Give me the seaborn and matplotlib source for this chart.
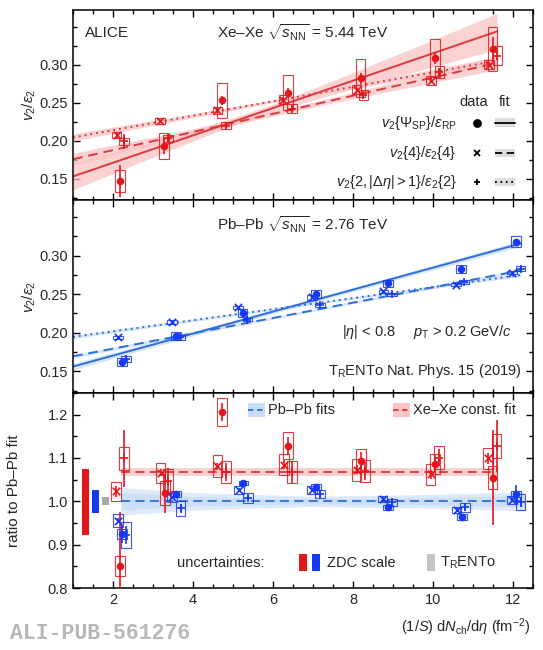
import numpy as np
import pandas as pd
import matplotlib
matplotlib.use('Agg')
import matplotlib.pyplot as plt
from matplotlib.patches import Rectangle
from matplotlib.ticker import MultipleLocator
import seaborn as sns

sns.set_theme(style='ticks')
plt.rcParams['font.family'] = ['Liberation Sans', 'DejaVu Sans']
plt.rcParams['mathtext.fontset'] = 'custom'
plt.rcParams['mathtext.rm'] = 'Liberation Sans'
plt.rcParams['mathtext.it'] = 'Liberation Sans:italic'
plt.rcParams['mathtext.bf'] = 'Liberation Sans:bold'

RED = '#e3161c'
RED_LINE = '#d93a3f'
RED_BAND = '#f9c4c4'
BLUE = '#1638f0'
BLUE_LINE = '#2f6fd8'
BLUE_BAND = '#c9ddf6'

# ---- Xe-Xe  v2/eps2 (top panel)
xe_sp_x = [2.18, 3.28, 4.72, 6.38, 8.19, 10.05, 11.49]
xe_sp_y = [0.147, 0.193, 0.253, 0.263, 0.282, 0.309, 0.321]
xe_sp_stat = [0.021, 0.011, 0.006, 0.006, 0.007, 0.008, 0.015]
xe_sp_sys = [0.014, 0.017, 0.023, 0.023, 0.025, 0.025, 0.029]

xe_c4_x = [2.09, 3.18, 4.61, 6.26, 8.09, 9.95, 11.40]
xe_c4_y = [0.207, 0.226, 0.240, 0.254, 0.267, 0.279, 0.300]
xe_c4_stat = [0.003, 0.003, 0.003, 0.003, 0.003, 0.003, 0.003]
xe_c4_sys = [0.004, 0.004, 0.005, 0.006, 0.006, 0.006, 0.006]

xe_c2_x = [2.28, 3.38, 4.82, 6.47, 8.26, 10.16, 11.61]
xe_c2_y = [0.199, 0.203, 0.220, 0.242, 0.260, 0.290, 0.312]
xe_c2_stat = [0.010, 0.005, 0.003, 0.004, 0.004, 0.005, 0.006]
xe_c2_sys = [0.005, 0.005, 0.004, 0.006, 0.007, 0.008, 0.012]

# linear fits: intercept, slope, band (sigma at pivot, sigma of slope, pivot)
xe_fit_sp = [0.135, 0.0180, 0.005, 0.0038, 5.5]
xe_fit_c4 = [0.1637, 0.01195, 0.003, 0.0015, 6.0]
xe_fit_c2 = [0.1948, 0.00952, 0.002, 0.0009, 6.0]
xe_fit_range = [1.0, 11.6]

# ---- Pb-Pb v2/eps2 (middle panel)
pb_sp_x = [2.23, 3.58, 5.24, 7.07, 8.87, 10.70, 12.08]
pb_sp_y = [0.162, 0.196, 0.226, 0.250, 0.264, 0.283, 0.318]
pb_sp_stat = [0.003, 0.002, 0.002, 0.002, 0.002, 0.002, 0.004]
pb_sp_sys = [0.005, 0.005, 0.005, 0.005, 0.005, 0.005, 0.007]

pb_c4_x = [2.13, 3.47, 5.13, 6.97, 8.76, 10.58, 11.97]
pb_c4_y = [0.194, 0.214, 0.233, 0.246, 0.254, 0.262, 0.278]
pb_c4_stat = [0.001, 0.001, 0.001, 0.001, 0.001, 0.001, 0.001]
pb_c4_sys = [0.002, 0.002, 0.002, 0.003, 0.002, 0.002, 0.002]

pb_c2_x = [2.33, 3.68, 5.36, 7.18, 8.98, 10.78, 12.19]
pb_c2_y = [0.166, 0.194, 0.217, 0.236, 0.250, 0.266, 0.283]
pb_c2_stat = [0.003, 0.002, 0.001, 0.001, 0.001, 0.001, 0.002]
pb_c2_sys = [0.004, 0.003, 0.002, 0.002, 0.002, 0.003, 0.003]

pb_fit_sp = [0.142, 0.01424, 0.0025, 0.0006, 7.0]
pb_fit_c4 = [0.1596, 0.00993, 0.0015, 0.0003, 7.0]
pb_fit_c2 = [0.1876, 0.00716, 0.0015, 0.0003, 7.0]
pb_fit_range = [1.0, 12.2]

# ---- ratios to Pb-Pb fit (bottom panel)
rxe_sp_x = [2.18, 3.30, 4.72, 6.38, 8.20, 10.05, 11.49]
rxe_sp_y = [0.851, 1.019, 1.206, 1.128, 1.094, 1.086, 1.055]
rxe_sp_stat = [0.125, 0.045, 0.020, 0.020, 0.020, 0.020, 0.110]
rxe_sp_sys = [0.023, 0.028, 0.033, 0.031, 0.027, 0.023, 0.027]

rxe_c4_x = [2.08, 3.19, 4.61, 6.28, 8.09, 9.94, 11.38]
rxe_c4_y = [1.023, 1.066, 1.081, 1.085, 1.073, 1.062, 1.099]
rxe_c4_stat = [0.012, 0.008, 0.008, 0.010, 0.010, 0.010, 0.012]
rxe_c4_sys = [0.022, 0.023, 0.025, 0.024, 0.025, 0.025, 0.024]

rxe_c2_x = [2.28, 3.38, 4.82, 6.48, 8.30, 10.15, 11.59]
rxe_c2_y = [1.099, 1.048, 1.068, 1.068, 1.070, 1.101, 1.128]
rxe_c2_stat = [0.066, 0.030, 0.020, 0.025, 0.020, 0.020, 0.060]
rxe_c2_sys = [0.027, 0.027, 0.026, 0.026, 0.026, 0.027, 0.027]

rpb_sp_x = [2.23, 3.58, 5.26, 7.08, 8.88, 10.72, 12.08]
rpb_sp_y = [0.925, 1.017, 1.042, 1.033, 0.986, 0.964, 1.017]
rpb_sp_stat = [0.020, 0.006, 0.004, 0.005, 0.004, 0.005, 0.020]
rpb_sp_sys = [0.012, 0.006, 0.005, 0.006, 0.005, 0.006, 0.008]

rpb_c4_x = [2.13, 3.48, 5.15, 6.98, 8.74, 10.59, 11.98]
rpb_c4_y = [0.955, 1.009, 1.026, 1.026, 1.005, 0.980, 1.003]
rpb_c4_stat = [0.006, 0.004, 0.004, 0.004, 0.004, 0.004, 0.004]
rpb_c4_sys = [0.015, 0.010, 0.010, 0.010, 0.007, 0.008, 0.010]

rpb_c2_x = [2.33, 3.69, 5.37, 7.18, 8.98, 10.80, 12.19]
rpb_c2_y = [0.922, 0.984, 1.008, 1.017, 0.998, 0.986, 0.998]
rpb_c2_stat = [0.020, 0.010, 0.006, 0.006, 0.006, 0.008, 0.012]
rpb_c2_sys = [0.030, 0.017, 0.012, 0.010, 0.008, 0.010, 0.018]

# Pb-Pb fit band in the ratio (outer / inner half widths)
pb_band_x = [2.2, 4.0, 7.0, 10.0, 12.3]
pb_band_outer = [0.032, 0.020, 0.012, 0.016, 0.022]
pb_band_inner = [0.020, 0.011, 0.006, 0.009, 0.013]
xe_const = 1.068
xe_const_err = 0.010
xe_const_range = [2.2, 11.6]

# global scale uncertainties: (x0, x1, lo, hi)
zdc_xe = [1.22, 1.41, 0.923, 1.074]
zdc_pb = [1.47, 1.66, 0.974, 1.026]
trento = [1.72, 1.91, 0.992, 1.009]

BOX_HW = 0.12


def draw_points(ax, xs, ys, stat, sys_, color, marker, box_lw=0.8):
    for x, y, s in zip(xs, ys, sys_):
        ax.add_patch(Rectangle((x - BOX_HW, y - s), 2 * BOX_HW, 2 * s, fill=False,
                               edgecolor=color, lw=box_lw, alpha=0.85, zorder=3))
    ax.errorbar(xs, ys, yerr=stat, fmt='none', ecolor=color, elinewidth=1.2,
                capsize=0, zorder=4)
    df = pd.DataFrame({'x': xs, 'y': ys})
    if marker == 'o':
        sns.scatterplot(data=df, x='x', y='y', marker='o', s=30, color=color,
                        edgecolor=color, linewidth=0, ax=ax, zorder=5)
    else:
        sns.scatterplot(data=df, x='x', y='y', marker=marker, s=28, color=color,
                        linewidth=1.2, ax=ax, zorder=5)


def draw_fit(ax, fit, xr, color, band_color, ls):
    a, b, s0, ss, xp = fit
    xs = np.linspace(xr[0], xr[1], 100)
    ys = a + b * xs
    w = np.sqrt(s0 ** 2 + (ss * (xs - xp)) ** 2)
    ax.fill_between(xs, ys - w, ys + w, color=band_color, alpha=0.75, lw=0, zorder=1)
    sns.lineplot(x=xs, y=ys, color=color, ls=ls, lw=1.4, ax=ax, zorder=2)


fig = plt.figure(figsize=(5.43, 6.5), dpi=100)
L, W = 73 / 543, 460 / 543
ax1 = fig.add_axes([L, 1 - 200 / 650, W, 190 / 650])
ax2 = fig.add_axes([L, 1 - 393 / 650, W, 193 / 650])
ax3 = fig.add_axes([L, 1 - 588 / 650, W, 195 / 650])

# top panel
draw_fit(ax1, xe_fit_sp, xe_fit_range, RED_LINE, RED_BAND, '-')
draw_fit(ax1, xe_fit_c4, xe_fit_range, RED_LINE, RED_BAND, (0, (5, 3)))
draw_fit(ax1, xe_fit_c2, xe_fit_range, RED_LINE, RED_BAND, (0, (1, 2)))
draw_points(ax1, xe_c4_x, xe_c4_y, xe_c4_stat, xe_c4_sys, RED, 'x')
draw_points(ax1, xe_c2_x, xe_c2_y, xe_c2_stat, xe_c2_sys, RED, '+')
draw_points(ax1, xe_sp_x, xe_sp_y, xe_sp_stat, xe_sp_sys, RED, 'o')

# middle panel
draw_fit(ax2, pb_fit_sp, pb_fit_range, BLUE_LINE, BLUE_BAND, '-')
draw_fit(ax2, pb_fit_c4, pb_fit_range, BLUE_LINE, BLUE_BAND, (0, (5, 3)))
draw_fit(ax2, pb_fit_c2, pb_fit_range, BLUE_LINE, BLUE_BAND, (0, (1, 2)))
draw_points(ax2, pb_c4_x, pb_c4_y, pb_c4_stat, pb_c4_sys, BLUE, 'x')
draw_points(ax2, pb_c2_x, pb_c2_y, pb_c2_stat, pb_c2_sys, BLUE, '+')
draw_points(ax2, pb_sp_x, pb_sp_y, pb_sp_stat, pb_sp_sys, BLUE, 'o')

# bottom panel
bx = np.linspace(pb_band_x[0], pb_band_x[-1], 100)
ax3.fill_between(bx, 1 - np.interp(bx, pb_band_x, pb_band_outer),
                 1 + np.interp(bx, pb_band_x, pb_band_outer), color=BLUE_BAND, alpha=0.6, lw=0)
ax3.fill_between(bx, 1 - np.interp(bx, pb_band_x, pb_band_inner),
                 1 + np.interp(bx, pb_band_x, pb_band_inner), color=BLUE_BAND, alpha=0.8, lw=0)
sns.lineplot(x=[pb_band_x[0], pb_band_x[-1]], y=[1.0, 1.0], color=BLUE_LINE,
             ls=(0, (5, 3)), lw=1.3, ax=ax3)
ax3.fill_between(xe_const_range, xe_const - xe_const_err, xe_const + xe_const_err,
                 color=RED_BAND, alpha=0.8, lw=0)
sns.lineplot(x=xe_const_range, y=[xe_const, xe_const], color=RED_LINE,
             ls=(0, (5, 3)), lw=1.3, ax=ax3)
for (x0, x1, lo, hi), c in zip([zdc_xe, zdc_pb, trento], [RED, BLUE, '#a8a8a8']):
    ax3.add_patch(Rectangle((x0, lo), x1 - x0, hi - lo, color=c, lw=0, zorder=3))
draw_points(ax3, rpb_c4_x, rpb_c4_y, rpb_c4_stat, rpb_c4_sys, BLUE, 'x')
draw_points(ax3, rpb_c2_x, rpb_c2_y, rpb_c2_stat, rpb_c2_sys, BLUE, '+')
draw_points(ax3, rpb_sp_x, rpb_sp_y, rpb_sp_stat, rpb_sp_sys, BLUE, 'o')
draw_points(ax3, rxe_c4_x, rxe_c4_y, rxe_c4_stat, rxe_c4_sys, RED, 'x')
draw_points(ax3, rxe_c2_x, rxe_c2_y, rxe_c2_stat, rxe_c2_sys, RED, '+')
draw_points(ax3, rxe_sp_x, rxe_sp_y, rxe_sp_stat, rxe_sp_sys, RED, 'o')

# axes styling
for ax in (ax1, ax2, ax3):
    ax.set_xlim(1, 12.5)
    ax.xaxis.set_major_locator(MultipleLocator(2))
    ax.xaxis.set_minor_locator(MultipleLocator(0.5))
    ax.tick_params(which='both', direction='in', top=True, right=True, labelsize=10.5,
                   width=1.0, color='black')
    ax.tick_params(which='major', length=5)
    ax.tick_params(which='minor', length=3)
    for sp in ax.spines.values():
        sp.set_linewidth(1.1)
        sp.set_color('black')
    ax.set_xlabel('')
    ax.set_ylabel('')

for ax in (ax1, ax2):
    ax.set_ylim(0.122, 0.372)
    ax.yaxis.set_major_locator(MultipleLocator(0.05))
    ax.yaxis.set_minor_locator(MultipleLocator(0.025))
    ax.set_yticks([0.15, 0.20, 0.25, 0.30])
    ax.set_yticklabels(['0.15', '0.20', '0.25', '0.30'])
    ax.tick_params(labelbottom=False)
    ax.set_ylabel(r'$v_2/\varepsilon_2$', fontsize=11)
    ax.yaxis.set_label_coords(-0.075, 0.5)

ax3.set_ylim(0.8, 1.25)
ax3.yaxis.set_major_locator(MultipleLocator(0.1))
ax3.yaxis.set_minor_locator(MultipleLocator(0.05))
ax3.set_yticks([0.8, 0.9, 1.0, 1.1, 1.2])
ax3.set_yticklabels(['0.8', '0.9', '1.0', '1.1', '1.2'])
ax3.set_xticks([2, 4, 6, 8, 10, 12])
ax3.set_xticklabels(['2', '4', '6', '8', '10', '12'])
ax3.set_ylabel('ratio to Pb–Pb fit', fontsize=11)
ax3.yaxis.set_label_coords(-0.112, 0.5)

# texts top panel
fs = 10.5
ax1.text(0.026, 0.879, 'ALICE', transform=ax1.transAxes, fontsize=11, va='center')
ax1.text(0.312, 0.879, r'Xe–Xe $\sqrt{s_{\rm NN}}$ = 5.44 TeV', transform=ax1.transAxes,
         fontsize=11, va='center')
ax1.text(0.870, 0.516, 'data', transform=ax1.transAxes, fontsize=fs, ha='center', va='center')
ax1.text(0.938, 0.516, 'fit', transform=ax1.transAxes, fontsize=fs, ha='center', va='center')
rows = [(r'$v_2\{\Psi_{\rm SP}\}/\varepsilon_{\rm RP}$', 'o', '-', 0.407),
        (r'$v_2\{4\}/\varepsilon_2\{4\}$', 'x', (0, (4, 2.5)), 0.247),
        (r'$v_2\{2, |\Delta\eta| > 1\}/\varepsilon_2\{2\}$', '+', (0, (1, 2)), 0.095)]
for lab, mk, ls, yy in rows:
    ax1.text(0.834, yy, lab, transform=ax1.transAxes, fontsize=fs, ha='right', va='center')
    ax1.plot([0.878], [yy], marker=mk, color='black', ms=5 if mk == 'o' else 4.5,
             mew=1.3, transform=ax1.transAxes, clip_on=False)
    ax1.add_patch(Rectangle((0.918, yy - 0.022), 0.042, 0.044, transform=ax1.transAxes,
                            color='#dcdcdc', lw=0))
    ax1.plot([0.918, 0.960], [yy, yy], color='black', ls=ls, lw=1.3, transform=ax1.transAxes)

# texts middle panel
ax2.text(0.312, 0.870, r'Pb–Pb $\sqrt{s_{\rm NN}}$ = 2.76 TeV', transform=ax2.transAxes,
         fontsize=11, va='center')
ax2.text(0.584, 0.318, r'$|\eta|$ < 0.8', transform=ax2.transAxes, fontsize=fs, va='center')
ax2.text(0.739, 0.318, r'$p_{\rm T}$ > 0.2 GeV/$c$', transform=ax2.transAxes, fontsize=fs,
         va='center')
ax2.text(0.975, 0.116, r'T$_{\rm R}$ENTo Nat. Phys. 15 (2019)', transform=ax2.transAxes,
         fontsize=fs, ha='right', va='center')

# legend bottom panel
def band_key(ax, x0, x1, yy, band, line):
    ax.add_patch(Rectangle((x0, yy - 0.035), x1 - x0, 0.07, transform=ax.transAxes,
                           color=band, lw=0))
    ax.plot([x0, x1], [yy, yy], color=line, ls=(0, (3, 2)), lw=1.3, transform=ax.transAxes)

band_key(ax3, 0.380, 0.417, 0.913, BLUE_BAND, BLUE_LINE)
ax3.text(0.424, 0.913, 'Pb–Pb fits', transform=ax3.transAxes, fontsize=fs, va='center')
band_key(ax3, 0.696, 0.733, 0.913, RED_BAND, RED_LINE)
ax3.text(0.739, 0.913, 'Xe–Xe const. fit', transform=ax3.transAxes, fontsize=fs, va='center')
ax3.text(0.225, 0.13, 'uncertainties:', transform=ax3.transAxes, fontsize=fs, va='center')
for x0, c in [(0.491, RED), (0.520, BLUE), (0.769, '#c4c4c4')]:
    ax3.add_patch(Rectangle((x0, 0.085), 0.018, 0.09, transform=ax3.transAxes, color=c, lw=0))
ax3.text(0.552, 0.13, 'ZDC scale', transform=ax3.transAxes, fontsize=fs, va='center')
ax3.text(0.798, 0.13, r'T$_{\rm R}$ENTo', transform=ax3.transAxes, fontsize=fs, va='center')

fig.text(0.976, 0.035, r'(1/$S$) d$N_{\rm ch}$/d$\eta$ (fm$^{-2}$)', fontsize=10.5,
         ha='right', va='center')
fig.text(0.018, 0.026, 'ALI-PUB-561276', fontsize=15.5, family='Liberation Mono',
         weight='bold', color='#b8b8b8', va='center')

fig.savefig('out.png', dpi=100)
